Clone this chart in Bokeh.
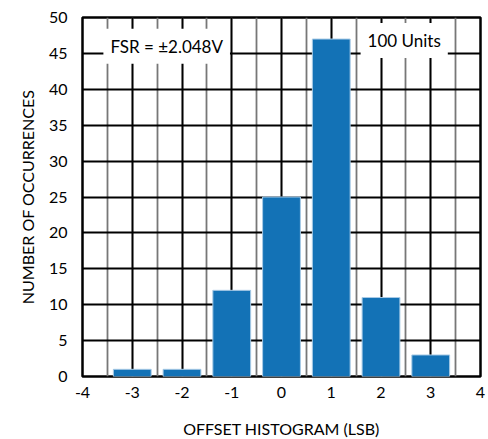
from bokeh.plotting import figure
from bokeh.models import Label, SingleIntervalTicker, Range1d
from bokeh.embed import file_html
from bokeh.resources import INLINE

offsets = [-3, -2, -1, 0, 1, 2, 3]
counts = [1, 1, 12, 25, 47, 11, 3]
x_ticks = [-4, -3, -2, -1, 0, 1, 2, 3, 4]
x_tick_labels = ["-4", "-3", "-2", "-1", "0", "1", "2", "3", "4"]
x_label = "OFFSET HISTOGRAM (LSB)"
y_label = "NUMBER OF OCCURRENCES"
note_fsr = "FSR = ±2.048V"
note_units = "100 Units"

FONT = "Lato"

p = figure(frame_width=398, frame_height=359, output_backend="svg", toolbar_location=None,
           x_range=Range1d(-4, 4), y_range=Range1d(0, 50),
           min_border_left=82, min_border_right=6, min_border_top=17, min_border_bottom=60)
p.background_fill_color = "white"
p.outline_line_color = "black"
p.outline_line_width = 2.5

p.xaxis.ticker = SingleIntervalTicker(interval=1, num_minor_ticks=2)
p.yaxis.ticker = SingleIntervalTicker(interval=5, num_minor_ticks=0)
p.xaxis.major_label_overrides = dict(zip(x_ticks, x_tick_labels))

for ax in (p.xaxis[0], p.yaxis[0]):
    ax.axis_line_color = None
    ax.major_tick_line_color = None
    ax.minor_tick_line_color = None
    ax.major_tick_out = 0
    ax.minor_tick_out = 0
    ax.major_label_text_font = FONT
    ax.major_label_text_font_size = "16px"
    ax.major_label_text_color = "black"
    ax.axis_label_text_font = FONT
    ax.axis_label_text_font_size = "16px"
    ax.axis_label_text_font_style = "normal"
    ax.axis_label_text_color = "black"

p.xaxis.axis_label = x_label
p.yaxis.axis_label = y_label
p.xaxis.major_label_standoff = 10
p.yaxis.major_label_standoff = 15
p.xaxis.axis_label_standoff = 18
p.yaxis.axis_label_standoff = 9

p.xgrid.grid_line_color = "black"
p.xgrid.grid_line_width = 1.8
p.xgrid.minor_grid_line_color = "#777777"
p.xgrid.minor_grid_line_width = 1.8
p.ygrid.grid_line_color = "black"
p.ygrid.grid_line_width = 1.8

p.vbar(x=offsets, top=counts, width=0.76, bottom=0,
       fill_color="#1372b6", line_color="#a9cbe6", line_width=1)

for txt, x, y in ((note_fsr, -3.58, 46.0), (note_units, 1.59, 46.8)):
    lab = Label(x=x, y=y, text=txt, text_font=FONT, text_font_size="17px",
                text_color="black", text_baseline="middle",
                background_fill_color="white", padding=7)
    p.add_layout(lab)

open("out.html", "w").write(file_html(p, INLINE))
